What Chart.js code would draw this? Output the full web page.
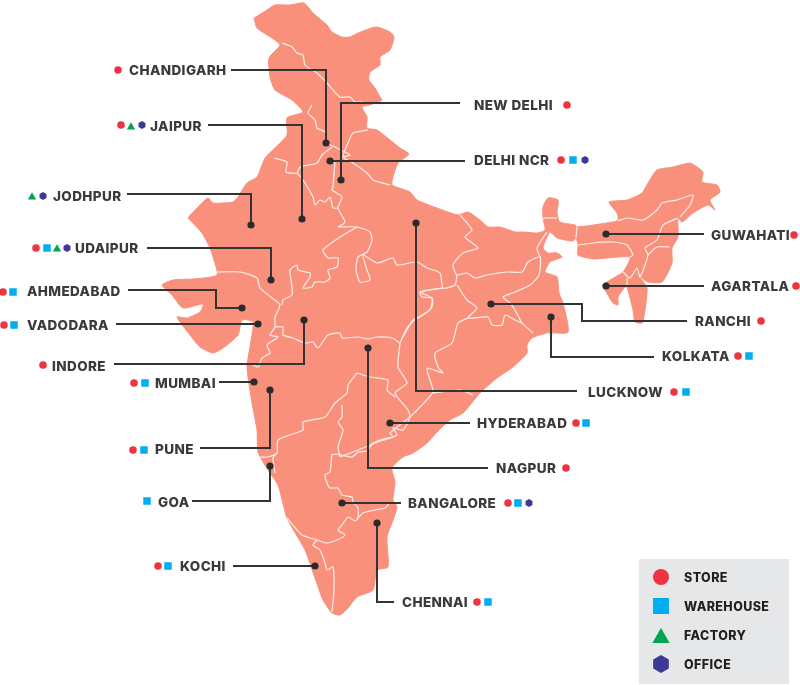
<!DOCTYPE html>
<html>
<head>
<meta charset="utf-8">
<title>India locations map</title>
<script src="https://cdn.jsdelivr.net/npm/chart.js@4/dist/chart.umd.min.js"></script>
<style>
  body { margin: 0; background: #fff; }
  canvas { display: block; }
</style>
</head>
<body>
<canvas id="mapChart" width="800" height="685"></canvas>
<script>
// map shape in axis units
const outline = [[254,18],[267,10],[275,5],[290,5],[304,3],[313,13],[327,25],[332,32],[342,37],[350,37],[358,33],[376,27],[390,32],[394,37],[390,50],[380,57],[380,65],[370,72],[369,80],[375,88],[380,97],[382,100],[370,105],[362,107],[367,117],[367,128],[377,130],[390,140],[400,148],[409,154],[398,163],[393,177],[392,185],[410,192],[417,200],[437,208],[458,215],[468,212],[480,220],[488,227],[500,227],[515,232],[523,232],[537,233],[545,230],[543,218],[543,207],[548,198],[558,200],[557,213],[560,222],[575,225],[577,227],[613,222],[618,220],[617,213],[609,202],[627,200],[642,193],[648,183],[657,170],[673,167],[690,163],[697,167],[703,172],[702,182],[717,185],[720,192],[710,200],[715,210],[708,205],[693,213],[682,222],[678,218],[678,237],[672,248],[672,263],[662,282],[648,282],[640,277],[647,288],[645,310],[642,323],[635,322],[633,310],[627,287],[625,287],[618,297],[618,305],[613,303],[608,295],[603,285],[623,272],[630,257],[607,258],[593,259],[578,255],[578,245],[576,238],[573,241],[557,238],[550,232],[547,237],[543,248],[548,253],[557,253],[562,257],[550,262],[545,272],[557,277],[559,293],[563,303],[568,332],[547,333],[532,338],[527,345],[527,353],[513,367],[497,378],[480,393],[463,413],[450,420],[437,432],[427,443],[413,453],[403,457],[392,468],[395,482],[393,500],[397,507],[393,520],[387,537],[388,567],[377,570],[373,590],[357,597],[348,608],[340,615],[332,613],[323,600],[315,578],[305,550],[287,518],[278,485],[268,470],[258,452],[257,430],[252,403],[247,367],[250,347],[253,322],[242,320],[238,335],[223,348],[213,353],[200,347],[190,335],[177,317],[187,318],[200,312],[203,304],[183,308],[172,295],[162,285],[173,280],[193,279],[217,275],[213,257],[210,248],[202,233],[190,220],[188,218],[198,207],[208,198],[213,203],[233,202],[238,197],[247,183],[257,177],[265,158],[275,148],[287,135],[287,118],[303,112],[292,100],[275,90],[270,77],[269,58],[280,45],[272,38],[257,28],[254,18]];

// state borders
const borders = [
  [[282,43],[292,47],[297,53],[303,55],[305,65],[317,73],[327,83],[340,97],[350,97],[355,102],[363,102]],
  [[312,105],[308,113],[315,120],[317,128],[325,132],[327,143],[335,147],[350,155],[343,157]],
  [[368,130],[353,133],[348,143],[343,157],[353,163],[367,173],[373,180],[390,185]],
  [[274,158],[287,162],[286,172],[297,173],[300,167],[317,163],[322,155],[332,147]],
  [[335,160],[333,187],[332,190],[342,197],[338,208],[345,222],[338,227]],
  [[297,173],[303,180],[313,197],[315,205],[320,200],[325,202],[330,197],[333,208],[338,208]],
  [[338,227],[357,227],[370,232],[372,240],[367,252],[358,257],[356,270],[360,282],[370,280],[367,270],[363,255],[377,263],[393,258],[397,265],[417,262],[427,268],[440,273],[443,288],[455,285],[457,275]],
  [[357,227],[340,237],[323,250],[328,258],[338,258],[337,267],[328,270],[330,278],[325,282],[315,282],[312,287],[303,288],[310,277],[310,273],[298,270],[297,265],[290,270],[292,287],[292,295],[283,300],[282,305]],
  [[217,272],[240,272],[257,278],[260,288],[272,298],[280,305],[275,317],[275,327],[270,335],[278,337],[267,345],[270,353],[262,358],[258,367],[250,363]],
  [[275,327],[283,327],[283,335],[293,338],[305,343],[313,342],[318,348],[328,335],[340,333],[342,338],[358,337],[368,339],[377,337],[392,338],[400,343]],
  [[400,343],[407,328],[417,318],[430,310],[432,298],[420,292],[443,288]],
  [[400,343],[398,367],[407,383],[395,393],[408,410],[410,417],[403,430],[393,428],[397,435],[378,442],[363,448],[340,457]],
  [[357,373],[370,377],[388,380],[387,390],[395,397]],
  [[357,373],[348,385],[347,393],[335,403],[325,417],[303,422],[303,430],[278,440],[277,453],[268,457],[260,457]],
  [[342,405],[342,417],[338,422],[343,430],[338,447],[340,457]],
  [[277,453],[273,458],[275,473]],
  [[337,454],[332,455],[330,472],[325,475],[327,483],[330,488],[338,488],[342,495],[352,497],[353,502],[358,508],[358,518],[355,521],[348,517],[342,525],[338,530],[345,535],[337,540],[327,543],[317,540],[302,535],[287,518]],
  [[317,540],[313,545],[320,550],[325,563],[327,570],[333,567],[334,590],[332,612]],
  [[358,518],[363,513],[375,510],[385,508],[390,503],[395,503]],
  [[337,454],[352,457],[358,452],[367,451],[373,443],[387,438],[393,437],[390,433],[410,417]],
  [[460,215],[472,230],[465,237],[478,248],[463,253],[453,265],[457,275],[467,273],[475,278],[487,275],[507,272],[522,272],[528,262],[540,257],[539,275],[530,285],[515,292],[503,297],[510,303],[515,310],[522,323],[533,333]],
  [[547,232],[537,248],[540,257]],
  [[457,285],[467,300],[477,308],[468,318],[488,317],[492,325],[502,325],[505,315],[515,320],[522,323]],
  [[468,318],[458,323],[452,343],[435,353],[438,367],[443,373],[427,368],[430,380],[433,392],[420,407],[410,417]],
  [[433,393],[460,390],[473,395]],
  [[443,288],[420,292],[422,297],[432,298],[432,307],[420,317],[413,320],[403,337]],
  [[618,221],[627,218],[643,220],[657,210],[662,203],[677,200],[693,195],[690,205],[680,217]],
  [[578,245],[593,243],[613,242],[627,245],[633,255],[630,257]],
  [[678,218],[663,225],[657,240],[645,248],[648,255],[640,277],[637,268],[630,278],[623,272]],
  [[648,255],[657,247],[670,247]],
  [[543,218],[557,218]],
  [[577,227],[576,238]],
  [[627,287],[627,278]]
];

// city labels
const cityNames = ["CHANDIGARH","JAIPUR","NEW DELHI","DELHI NCR","JODHPUR","UDAIPUR","AHMEDABAD","VADODARA","INDORE","MUMBAI","PUNE","GOA","KOCHI","BANGALORE","CHENNAI","NAGPUR","HYDERABAD","LUCKNOW","KOLKATA","RANCHI","AGARTALA","GUWAHATI"];
const labelX = [129,150,474,474,53,75,27,27,52,155,155,158,180,408,402,496,477,588,662,695,711,711];
const labelY = [71,127,106,161,197,249,292,326,367,384,450,503,567,504,603,469,424,393,357,322,287,236];

// leader lines, label end first, city dot last
const leaders = [
  [[231,70],[326,70],[326,143]],
  [[208,125],[302,125],[302,219]],
  [[460,103],[341,103],[341,180]],
  [[465,161],[330,161]],
  [[127,194],[251,194],[251,225]],
  [[147,248],[271,248],[271,280]],
  [[128,290],[216,290],[216,308],[242,308]],
  [[116,324],[258,324]],
  [[114,364],[304,364],[304,320]],
  [[219,382],[254,382]],
  [[200,448],[270,448],[270,390]],
  [[192,501],[270,501],[270,466]],
  [[233,566],[315,566]],
  [[394,602],[377,602],[377,523]],
  [[401,503],[342,503]],
  [[488,468],[368,468],[368,348]],
  [[470,423],[390,423]],
  [[577,391],[416,391],[416,223]],
  [[654,357],[551,357],[551,317]],
  [[687,321],[582,321],[582,304],[491,304]],
  [[704,286],[606,286]],
  [[704,234],[606,234]]
];

// facility markers beside each label
const stores = [[118,70],[121,125],[567,105],[561,160],[36,248],[3,292],[4,325],[43,365],[134,383],[133,450],[158,566],[508,503],[477,602],[566,468],[576,423],[674,392],[738,356],[761,321],[796,286],[794,235]];
const warehouses = [[573,160],[47,248],[13,292],[14,325],[145,383],[144,450],[147,501],[168,566],[518,503],[488,602],[586,423],[686,392],[749,356]];
const factories = [[131,127],[32,197],[57,249]];
const offices = [[142,125],[585,160],[43,196],[67,248],[529,503]];

// legend
const legendNames = ["STORE","WAREHOUSE","FACTORY","OFFICE"];
const legendX = 661;
const legendY = [577,606,638,664];
const legendTextX = 684;
const legendTextY = [578,607,636,665];
const legendPanel = { left: 639, top: 559, right: 789, bottom: 684 };

const toPoints = (pairs) => pairs.map(([x, y]) => ({ x, y }));

function hexagon(size) {
  const c = document.createElement("canvas");
  c.width = c.height = size;
  const g = c.getContext("2d");
  const r = size / 2;
  g.fillStyle = "#3b3896";
  g.beginPath();
  for (let i = 0; i < 6; i++) {
    const a = Math.PI / 3 * i;
    g.lineTo(r + Math.sin(a) * r, r - Math.cos(a) * r);
  }
  g.closePath();
  g.fill();
  return c;
}

function markerSet(pairs, legendIndex, style, color, small, large) {
  return {
    data: toPoints(pairs.concat([[legendX, legendY[legendIndex]]])),
    showLine: false,
    pointStyle: style,
    backgroundColor: color,
    pointBorderWidth: 0,
    pointRadius: pairs.map(() => small).concat([large]),
    order: 1,
    clip: false,
  };
}

const smallHex = hexagon(8);
const largeHex = hexagon(18);

const datasets = [
  {
    data: toPoints(outline),
    showLine: true,
    fill: "shape",
    backgroundColor: "#f8907c",
    borderColor: "#f8907c",
    borderWidth: 1,
    pointRadius: 0,
    tension: 0.2,
    order: 5,
  },
];

borders.forEach((b) => {
  datasets.push({
    data: toPoints(b),
    showLine: true,
    borderColor: "#fdeee9",
    borderWidth: 1.2,
    pointRadius: 0,
    tension: 0.2,
    order: 4,
  });
});

leaders.forEach((l) => {
  datasets.push({
    data: toPoints(l),
    showLine: true,
    borderColor: "#333333",
    borderWidth: 2,
    borderJoinStyle: "miter",
    pointRadius: l.map((p, i) => (i === l.length - 1 ? 3.6 : 0)),
    pointBackgroundColor: "#2b2b2b",
    pointBorderWidth: 0,
    order: 3,
  });
});

datasets.push(markerSet(stores, 0, "circle", "#ef3340", 3.8, 8));
datasets.push(markerSet(warehouses, 1, "rect", "#00aeef", 5.3, 11.3));
datasets.push(markerSet(factories, 2, "triangle", "#00a651", 4.8, 10));
datasets.push({
  data: toPoints(offices.concat([[legendX, legendY[3]]])),
  showLine: false,
  pointStyle: offices.map(() => smallHex).concat([largeHex]),
  pointRadius: 5,
  pointBorderWidth: 0,
  order: 1,
  clip: false,
});

const mapText = {
  id: "mapText",
  beforeDatasetsDraw(chart) {
    const { ctx, scales } = chart;
    const { x, y } = scales;
    ctx.save();
    ctx.fillStyle = "#e6e7e8";
    ctx.fillRect(
      x.getPixelForValue(legendPanel.left),
      y.getPixelForValue(legendPanel.top),
      x.getPixelForValue(legendPanel.right) - x.getPixelForValue(legendPanel.left),
      y.getPixelForValue(legendPanel.bottom) - y.getPixelForValue(legendPanel.top)
    );
    ctx.restore();
  },
  afterDatasetsDraw(chart) {
    const { ctx, scales } = chart;
    const { x, y } = scales;
    ctx.save();
    ctx.textBaseline = "middle";
    ctx.textAlign = "left";
    ctx.font = "800 13.5px Inter";
    ctx.letterSpacing = "0.4px";
    ctx.fillStyle = "#3a3a3c";
    cityNames.forEach((name, i) => {
      ctx.fillText(name, x.getPixelForValue(labelX[i]), y.getPixelForValue(labelY[i]));
    });
    ctx.font = "800 12.5px Inter";
    ctx.letterSpacing = "0.4px";
    ctx.fillStyle = "#231f20";
    legendNames.forEach((name, i) => {
      ctx.fillText(name, x.getPixelForValue(legendTextX), y.getPixelForValue(legendTextY[i]));
    });
    ctx.restore();
  },
};

new Chart(document.getElementById("mapChart").getContext("2d"), {
  type: "scatter",
  data: { datasets },
  plugins: [mapText],
  options: {
    responsive: false,
    animation: false,
    events: [],
    layout: { padding: 0, autoPadding: false },
    scales: {
      x: { type: "linear", min: 0, max: 800, display: false },
      y: { type: "linear", min: 0, max: 685, reverse: true, display: false },
    },
    plugins: {
      legend: { display: false },
      tooltip: { enabled: false },
    },
  },
});
</script>
</body>
</html>
